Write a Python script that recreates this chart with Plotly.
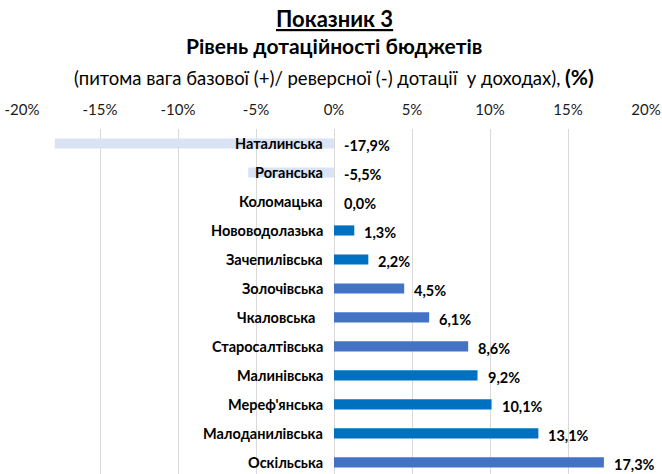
import plotly.graph_objects as go

categories = ["Наталинська", "Роганська", "Коломацька", "Нововодолазька", "Зачепилівська",
              "Золочівська", "Чкаловська\u00a0\u00a0", "Старосалтівська", "Малинівська",
              "Мереф'янська", "Малоданилівська", "Оскільська"]
values = [-17.9, -5.5, 0.0, 1.3, 2.2, 4.5, 6.1, 8.6, 9.2, 10.1, 13.1, 17.3]
labels = ["-17,9%", "-5,5%", "0,0%", "1,3%", "2,2%", "4,5%", "6,1%", "8,6%", "9,2%",
          "10,1%", "13,1%", "17,3%"]
bar_colors = ["#DAE3F3", "#DAE3F3", "#DAE3F3", "#0070C0", "#0070C0", "#4472C4", "#4472C4",
              "#4472C4", "#0070C0", "#0070C0", "#0070C0", "#4472C4"]
tick_vals = [-20, -15, -10, -5, 0, 5, 10, 15, 20]
tick_text = ["-20%", "-15%", "-10%", "-5%", "0%", "5%", "10%", "15%", "20%"]

FONT = "Lato, 'Noto Sans', sans-serif"

idx = list(range(len(categories)))
fig = go.Figure(go.Bar(
    x=values, y=idx, orientation="h", marker=dict(color=bar_colors, line=dict(width=0)),
    width=0.35, hoverinfo="skip"))

ann = []
for i, (c, v, t) in enumerate(zip(categories, values, labels)):
    ann.append(dict(x=0, y=i, xref="x", yref="y", text="<b>%s</b>" % c, showarrow=False,
                    xanchor="right", xshift=-9, font=dict(size=14.5, color="#000", family=FONT)))
    ann.append(dict(x=max(v, 0), y=i, xref="x", yref="y", text="<b>%s</b>" % t, showarrow=False,
                    xanchor="left", xshift=8, yshift=-2,
                    font=dict(size=14.5, color="#000", family=FONT)))

fig.update_layout(
    width=662, height=474,
    margin=dict(l=22, r=16, t=129, b=0),
    paper_bgcolor="white", plot_bgcolor="white",
    showlegend=False,
    xaxis=dict(side="top", range=[-20, 20], tickvals=tick_vals, ticktext=tick_text,
               showgrid=True, gridcolor="#D9D9D9", gridwidth=1, zeroline=True,
               zerolinecolor="#D9D9D9", zerolinewidth=1, showline=False, ticks="",
               ticklabelstandoff=10,
               tickfont=dict(size=15, color="#1a1a1a", family=FONT), fixedrange=True),
    yaxis=dict(range=[11.4, -0.5], showticklabels=False, showgrid=False, zeroline=False,
               showline=False, ticks="", fixedrange=True),
    annotations=ann,
)

plot_h = 474 - 129
titles = [
    ("<b><u>Показник 3</u></b>", 19, 22),
    ("<b>Рівень дотаційності бюджетів</b>", 45, 21),
    ("(питома вага базової (+)/ реверсної (-) дотації  у доходах), <b><span style='font-size:21px'>(%)</span></b>", 76, 18.5),
]
for text, ypix, size in titles:
    fig.add_annotation(x=0.5, xref="paper", y=1 + (129 - ypix) / plot_h, yref="paper",
                       yanchor="middle", xanchor="center", text=text, showarrow=False,
                       font=dict(size=size, color="#000", family=FONT))

fig.write_html("out.html", config={"displayModeBar": False},
               post_script="document.body.style.margin='0';")
